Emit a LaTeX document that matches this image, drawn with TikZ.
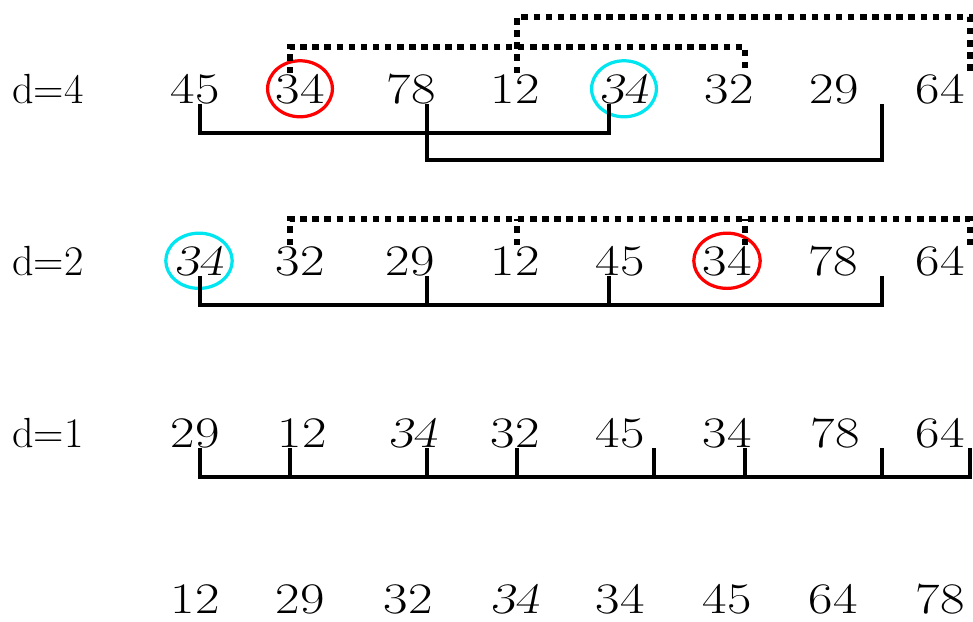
\documentclass[tikz,border=0pt]{standalone}
\usepackage{graphicx}
\newcommand{\widenum}[1]{\scalebox{1.22}[1]{#1}}
\newcommand{\keynum}{\textsl{34}}
\definecolor{ringcyan}{RGB}{0,230,240}
\tikzset{
  num/.style={anchor=base,inner sep=0pt,font=\fontsize{31}{36}\selectfont},
  rowlabel/.style={anchor=base west,inner sep=0pt,font=\fontsize{30}{36}\selectfont},
  gap/.style={line width=2.6pt},
  gapdot/.style={line width=3.6pt,dash pattern=on 4.6pt off 4pt},
  redring/.style={draw=red,line width=2.3pt},
  cyanring/.style={draw=ringcyan,line width=2.3pt}
}

\begin{document}
\begin{tikzpicture}[x=0.025cm,y=-0.025cm]
  \useasboundingbox (0,0) rectangle (973,621);

  % row labels
  \node[rowlabel] (l4) at (12,103) {d=4};
  \node[rowlabel] (l2) at (12,275) {d=2};
  \node[rowlabel] (l1) at (12,447) {d=1};

  % the four passes
  \foreach \v/\x [count=\i] in {45/195,34/300,78/411,12/515,\keynum/624,32/729,29/834,64/940}
    \node[num] (a\i) at (\x,103) {\widenum{\v}};
  \foreach \v/\x [count=\i] in {\keynum/199,32/300,29/410,12/515,45/620,34/727,78/833,64/940}
    \node[num] (b\i) at (\x,275) {\widenum{\v}};
  \foreach \v/\x [count=\i] in {29/195,12/302,\keynum/413,32/515,45/620,34/727,78/835,64/940}
    \node[num] (c\i) at (\x,447) {\widenum{\v}};
  \foreach \v/\x [count=\i] in {12/195,29/300,32/408,\keynum/515,34/620,45/727,64/833,78/940}
    \node[num] (e\i) at (\x,613) {\widenum{\v}};

  % the two 34s
  \draw[redring] (a2.center) ellipse (0.81cm and 0.7cm);
  \draw[cyanring] (a5.center) ellipse (0.81cm and 0.7cm);
  \draw[cyanring] (b1.center) ellipse (0.83cm and 0.69cm);
  \draw[redring] (b6.center) ellipse (0.83cm and 0.69cm);

  % d=4 groups
  \coordinate (a4t1) at (200,104);
  \coordinate (a4t2) at (290,73);
  \coordinate (a4t3) at (427,104);
  \coordinate (a4t4) at (517,73);
  \coordinate (a4t5) at (609,104);
  \coordinate (a4t6) at (745,73);
  \coordinate (a4t7) at (882,104);
  \coordinate (a4t8) at (970,73);
  \draw[gap] (a4t1) -- ++(0,29) -| (a4t5);
  \draw[gap] (a4t3) -- ++(0,56) -| (a4t7);
  \draw[gapdot] (a4t2) -- ++(0,-26) -| (a4t6);
  \draw[gapdot] (a4t4) -- ++(0,-56) -| (a4t8);

  % d=2 groups
  \coordinate (b2t1) at (200,276);
  \coordinate (b2t2) at (290,245);
  \coordinate (b2t3) at (427,276);
  \coordinate (b2t4) at (517,245);
  \coordinate (b2t5) at (609,276);
  \coordinate (b2t6) at (745,245);
  \coordinate (b2t7) at (882,276);
  \coordinate (b2t8) at (970,245);
  \draw[gap] (b2t1) -- ++(0,29) -| (b2t7);
  \draw[gap] (b2t3) -- ++(0,29);
  \draw[gap] (b2t5) -- ++(0,29);
  \draw[gapdot] (b2t2) -- ++(0,-26) -| (b2t8);
  \draw[gapdot] (b2t4) -- ++(0,-26);
  \draw[gapdot] (b2t6) -- ++(0,-26);

  % d=1 group
  \foreach \x [count=\i] in {200,290,427,517,654,745,882,970}
    \coordinate (c1t\i) at (\x,448);
  \draw[gap] (c1t1) -- ++(0,29) -| (c1t8);
  \foreach \i in {2,...,7}
    \draw[gap] (c1t\i) -- ++(0,29);
\end{tikzpicture}
\end{document}
